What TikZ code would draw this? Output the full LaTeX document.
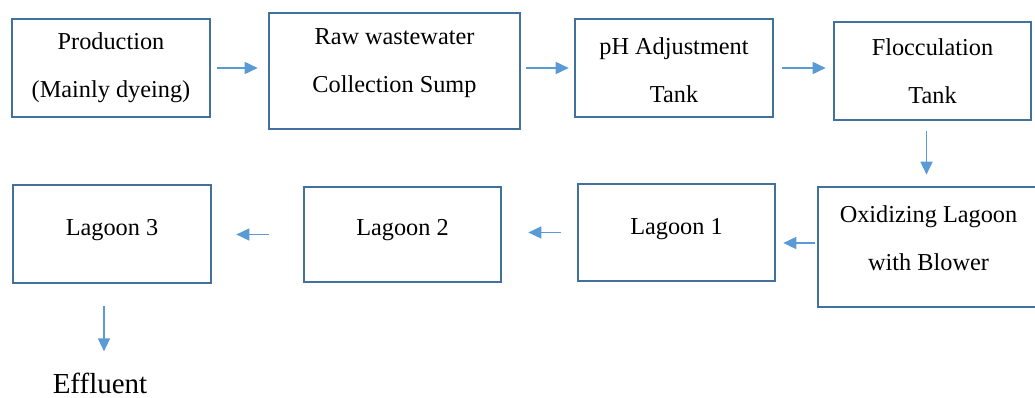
\documentclass[tikz,border=0pt]{standalone}
\usepackage{fontspec}
\setmainfont{Liberation Serif}
\usetikzlibrary{arrows.meta}
\definecolor{boxblue}{HTML}{41719C}
\definecolor{flowblue}{HTML}{5B9BD5}
\begin{document}
\begin{tikzpicture}[x=1pt,y=-1pt,
  unit/.style={draw=boxblue,line width=2.6pt,inner sep=0pt},
  unittext/.style={align=center,inner sep=0pt,font=\fontsize{24.3}{48}\selectfont},
  flow/.style={draw=flowblue,line width=1.6pt,-{Triangle[length=13pt,width=12pt]}}]
\useasboundingbox (0,0) rectangle (1035,398);
% top row
\node[unit,minimum width=198pt,minimum height=98pt] (prod) at (111,68) {};
\node[unittext] (prodtext) at (prod) {Production\\(Mainly dyeing)};
\node[unit,minimum width=251pt,minimum height=116pt] (raw) at (394.5,71) {};
\node[unittext] (rawtext) at ([yshift=8pt]raw.center) {Raw wastewater\\Collection Sump};
\node[unit,minimum width=198pt,minimum height=98pt] (ph) at (674,68) {};
\node[unittext] (phtext) at ([yshift=-2pt]ph.center) {pH Adjustment\\Tank};
\node[unit,minimum width=197pt,minimum height=98pt] (floc) at (932.5,71) {};
\node[unittext] (floctext) at (floc) {Flocculation\\Tank};
% bottom row
\node[unit,minimum width=221pt,minimum height=120pt] (oxid) at (928.5,247) {};
\node[unittext] (oxidtext) at ([yshift=9pt]oxid.center) {Oxidizing Lagoon\\with Blower};
\node[unit,minimum width=197pt,minimum height=97pt] (lag1) at (676.5,232.5) {};
\node[unittext] (lag1text) at ([yshift=3pt]lag1.center) {Lagoon 1};
\node[unit,minimum width=197pt,minimum height=95pt] (lag2) at (402.5,234.5) {};
\node[unittext] (lag2text) at ([yshift=4pt]lag2.center) {Lagoon 2};
\node[unit,minimum width=198pt,minimum height=98pt] (lag3) at (112,234) {};
\node[unittext] (lag3text) at ([yshift=4pt]lag3.center) {Lagoon 3};
\node[inner sep=0pt,anchor=base,font=\fontsize{29}{34}\selectfont] (eff) at (100,393) {Effluent};
% flow arrows
\draw[flow,shorten <=6pt,shorten >=10pt] (prod.east) -- (prod.east -| raw.west);
\draw[flow,shorten <=5pt,shorten >=5pt] (ph.west -| raw.east) -- (ph.west);
\draw[flow,shorten <=8pt,shorten >=7pt] (ph.east) -- (ph.east -| floc.west);
\draw[flow,shorten <=10pt,shorten >=11pt] ([xshift=-6pt]floc.south) -- ([xshift=-6pt]floc.south |- oxid.north);
\draw[flow,shorten <=2pt,shorten >=7pt] ([yshift=4pt]oxid.west) -- ([yshift=4pt]oxid.west -| lag1.east);
\draw[flow,shorten <=16pt,shorten >=26pt] (lag1.west) -- (lag1.west -| lag2.east);
\draw[flow,shorten <=34pt,shorten >=24pt] (lag2.west) -- (lag2.west -| lag3.east);
\draw[flow,shorten <=22pt,shorten >=21pt] ([xshift=-8pt]lag3.south) -- ([xshift=-8pt]lag3.south |- eff.north);
\end{tikzpicture}
\end{document}
